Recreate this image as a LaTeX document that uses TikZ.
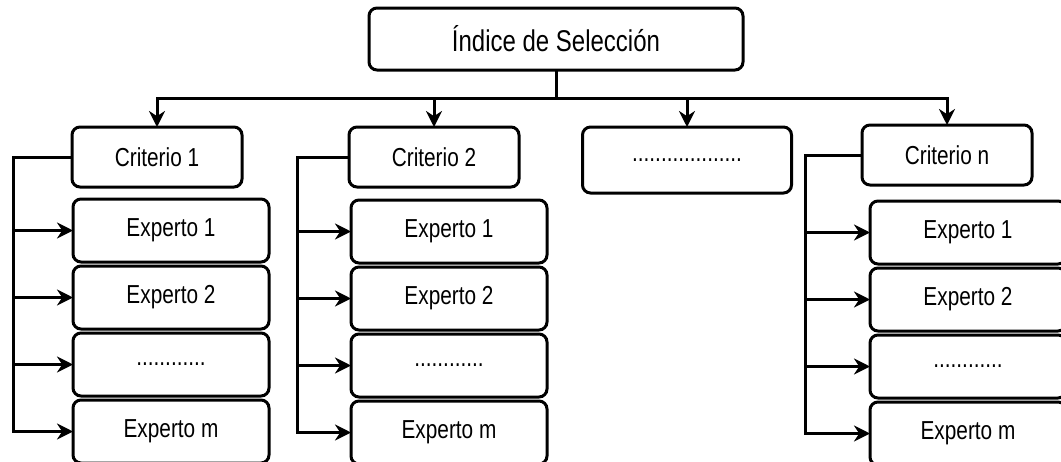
\documentclass[tikz,border=0pt]{standalone}
\usepackage{fontspec}
\setmainfont{Liberation Sans}[FakeStretch=0.8]
\usetikzlibrary{positioning,arrows.meta}
\tikzset{%
box/.style={draw,rectangle,rounded corners=8pt,line width=3pt,inner sep=0pt,outer sep=0pt,font=\fontsize{26}{30}\selectfont},
crit/.style={box,minimum width=170pt,minimum height=60pt},
expert/.style={box,minimum width=196pt,minimum height=63pt},
link/.style={line width=3pt},
arrowlink/.style={link,-{Stealth[length=16pt,width=16pt]}}
}

\begin{document}
\begin{tikzpicture}[x=1pt,y=-1pt]
    \useasboundingbox (0,0) rectangle (1061,461);
    \clip (0,0) rectangle (1061,461);

    \node[box,minimum width=374pt,minimum height=62pt,font=\fontsize{30}{34}\selectfont] (idx) at (556,39) {Índice de Selección};

    \node[crit] (c1) at (157,157) {Criterio 1};
    \node[crit] (c2) at (434,157) {Criterio 2};
    \node[box,minimum width=209pt,minimum height=66pt] (cx) at (687,160) {...................};
    \node[crit] (cn) at (947,155) {Criterio n};

    % experts of criterio 1
    \node[expert] (e11) [below right=12pt and 1pt of c1.south west] {Experto 1};
    \node[expert] (e12) [below=4pt of e11] {Experto 2};
    \node[expert] (e13) [below=4pt of e12] {............};
    \node[expert] (em1) [below=4pt of e13] {Experto m};

    % experts of criterio 2
    \node[expert] (e21) [below right=13pt and 2pt of c2.south west] {Experto 1};
    \node[expert] (e22) [below=4pt of e21] {Experto 2};
    \node[expert] (e23) [below=4pt of e22] {............};
    \node[expert] (em2) [below=4pt of e23] {Experto m};

    % experts of criterio n
    \node[expert] (en1) [below right=16pt and 8pt of cn.south west] {Experto 1};
    \node[expert] (en2) [below=4pt of en1] {Experto 2};
    \node[expert] (en3) [below=4pt of en2] {............};
    \node[expert] (enm) [below=4pt of en3] {Experto m};

    \coordinate (bus) at ([yshift=-28pt]idx.south);
    \draw[link] (idx.south) -- (bus);
    \draw[arrowlink] (bus) -| (c1.north);
    \draw[arrowlink] (bus) -| (c2.north);
    \draw[arrowlink] (bus) -| (cx.north);
    \draw[arrowlink] (bus) -| (cn.north);

    \coordinate[left=59pt of c1.west] (k1);
    \coordinate[left=52pt of c2.west] (k2);
    \coordinate[left=57pt of cn.west] (kn);

    \draw[arrowlink] (c1.west) -| (k1 |- em1.west) -- (em1.west);
    \path[arrowlink] (k1 |- e11.west) edge (e11.west)
                     (k1 |- e12.west) edge (e12.west)
                     (k1 |- e13.west) edge (e13.west);

    \draw[arrowlink] (c2.west) -| (k2 |- em2.west) -- (em2.west);
    \path[arrowlink] (k2 |- e21.west) edge (e21.west)
                     (k2 |- e22.west) edge (e22.west)
                     (k2 |- e23.west) edge (e23.west);

    \draw[arrowlink] (cn.west) -| (kn |- enm.west) -- (enm.west);
    \path[arrowlink] (kn |- en1.west) edge (en1.west)
                     (kn |- en2.west) edge (en2.west)
                     (kn |- en3.west) edge (en3.west);

\end{tikzpicture}
\end{document}
